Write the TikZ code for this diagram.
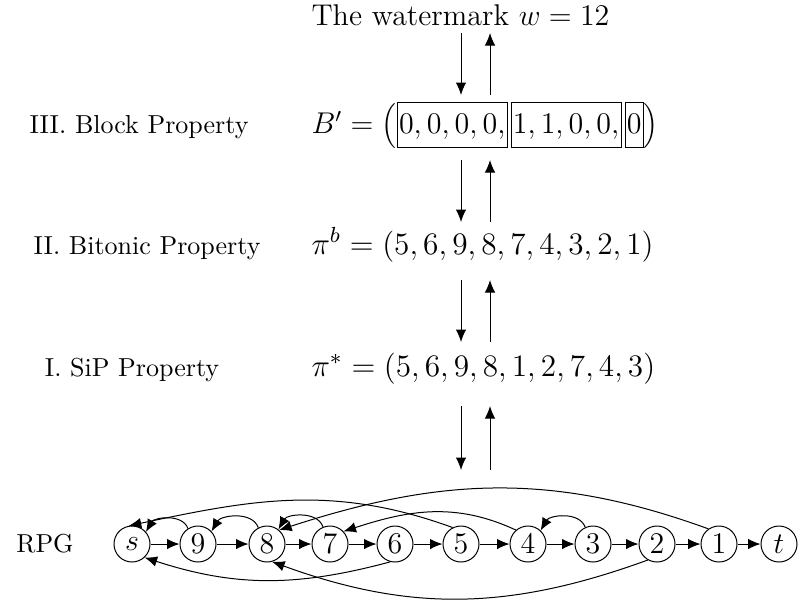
\RequirePackage{fix-cm}
\documentclass[tikz,border=0pt]{standalone}
\usetikzlibrary{arrows.meta}
\newcommand{\bbox}[1]{{\setlength{\fboxsep}{0.5pt}\fbox{\rule[-5pt]{0pt}{16.6pt}$#1$}}}
\begin{document}
\begin{tikzpicture}[x=0.4pt,y=-0.4pt,
  arr/.style={-{Latex[length=5pt,width=4.2pt]}},
  vnode/.style={circle,draw,inner sep=0pt,minimum size=14.4pt,font=\large},
  mainrow/.style={anchor=base west,inner sep=0pt,font=\large},
  mathrow/.style={anchor=base west,inner sep=0pt,font=\fontsize{12.5}{15}\selectfont},
  sidelabel/.style={anchor=base,inner sep=0pt,font=\fontsize{10.4}{12.5}\selectfont}]
\useasboundingbox (0,0) rectangle (798,608);
% rows
\node[mainrow] (wm) at (311,25) {The watermark $w=12$};
\node[mainrow] (bp) at (311,133) {$B'=\left(\bbox{0,0,0,0,}\hspace{1.2pt}\bbox{1,1,0,0,}\hspace{1.2pt}\bbox{0}\right)$};
\node[mathrow] (pb) at (311,254) {$\pi^b=(5,6,9,8,7,4,3,2,1)$};
\node[mathrow] (ps) at (311,376) {$\pi^*=(5,6,9,8,1,2,7,4,3)$};
\node[sidelabel] (l3) at (139,133) {III. Block Property};
\node[sidelabel] (l2) at (147,254) {II. Bitonic Property};
\node[sidelabel] (l1) at (132,376) {I. SiP Property};
\node[sidelabel,anchor=center] (l0) at (45,544) {RPG};
% arrows between rows
\foreach \i/\ya/\yb in {1/33/95,2/160/222,3/280/342,4/406/470}{
  \coordinate (d\i a) at (461,\ya); \coordinate (d\i b) at (461,\yb);
  \coordinate (u\i a) at (490,\yb); \coordinate (u\i b) at (490,\ya);
  \draw[arr] (d\i a) -- (d\i b);
  \draw[arr] (u\i a) -- (u\i b);
}
% graph nodes
\node[vnode] (s) at (132,544) {$s$};
\node[vnode] (n9) at (198,544) {$9$};
\node[vnode] (n8) at (267,544) {$8$};
\node[vnode] (n7) at (330,544) {$7$};
\node[vnode] (n6) at (395,544) {$6$};
\node[vnode] (n5) at (461,544) {$5$};
\node[vnode] (n4) at (528,544) {$4$};
\node[vnode] (n3) at (593,544) {$3$};
\node[vnode] (n2) at (657,544) {$2$};
\node[vnode] (n1) at (719,544) {$1$};
\node[vnode] (t) at (779,544) {$t$};
% forward path
\draw[arr] (s) -- (n9);
\draw[arr] (n9) -- (n8);
\draw[arr] (n8) -- (n7);
\draw[arr] (n7) -- (n6);
\draw[arr] (n6) -- (n5);
\draw[arr] (n5) -- (n4);
\draw[arr] (n4) -- (n3);
\draw[arr] (n3) -- (n2);
\draw[arr] (n2) -- (n1);
\draw[arr] (n1) -- (t);
% short back arcs (above)
\draw[arr] (n9.123) to[out=110,in=60] (s.41);
\draw[arr] (n8.118) to[out=110,in=60] (n9.43);
\draw[arr] (n7.112) to[out=110,in=60] (n8.52);
\draw[arr] (n3.115) to[out=110,in=60] (n4.47);
% long back arcs (above)
\draw[arr] (n5.117) to[out=160,in=12] (s.100);
\draw[arr] (n4.131) to[out=155,in=18] (n7.43);
\draw[arr] (n1.125) to[out=160,in=18] (n8.49);
% long back arcs (below)
\draw[arr] (n6.-105) to[out=-165,in=-18] (s.-47);
\draw[arr] (n2.-120) to[out=-160,in=-20] (n8.-74);
\end{tikzpicture}
\end{document}
